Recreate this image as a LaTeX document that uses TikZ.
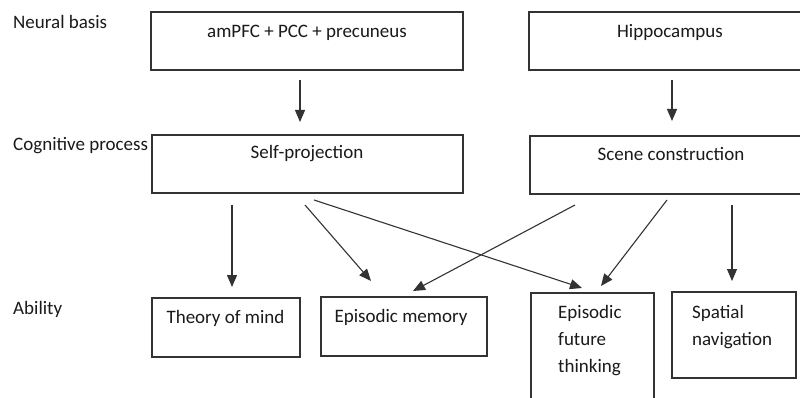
\documentclass[tikz,border=0pt]{standalone}
\usepackage{fontspec}
\setmainfont{Carlito}
\usetikzlibrary{arrows.meta}
\definecolor{ln}{HTML}{333333}
\definecolor{tx}{HTML}{1A1A1A}
\tikzset{
  box/.style={draw=ln, line width=1.1pt, rectangle, inner sep=0pt},
  lbl/.style={anchor=base, inner sep=0pt, text=tx, font=\fontsize{19}{27}\selectfont},
  side/.style={anchor=base west, inner sep=0pt, text=tx, font=\fontsize{19}{27}\selectfont},
  multi/.style={anchor=base west, inner sep=0pt, text=tx, align=left, text width=95pt, font=\fontsize{19}{27}\selectfont},
  arr/.style={draw=ln, line width=1.1pt, -{Triangle[length=12pt,width=10pt]}}
}
\begin{document}
\begin{tikzpicture}[x=1pt,y=-1pt]
\useasboundingbox (0,0) rectangle (800,398);
\clip (0,0) rectangle (800,398);
\fill[white] (0,0) rectangle (800,398);
% row labels
\node[side] (lneural) at (13,29) {Neural basis};
\node[side] (lcog) at (13,151) {Cognitive process};
\node[side] (labil) at (13,314) {Ability};
% boxes
\node[box, minimum width=312pt, minimum height=58pt] (ampfc) at (307,41) {};
\node[box, minimum width=282pt, minimum height=58pt] (hippo) at (670,41) {};
\node[box, minimum width=311pt, minimum height=58pt] (selfp) at (307.5,164) {};
\node[box, minimum width=281pt, minimum height=58pt] (scene) at (670.5,165) {};
\node[box, minimum width=148pt, minimum height=59pt] (tom) at (226,327.5) {};
\node[box, minimum width=166pt, minimum height=59pt] (epm) at (404,326.5) {};
\node[box, minimum width=123pt, minimum height=127pt] (eft) at (592.5,356.5) {};
\node[box, minimum width=124pt, minimum height=86pt] (spn) at (734,335) {};
% texts
\node[lbl] (tampfc) at (307,37.5) {amPFC + PCC + precuneus};
\node[lbl] (thippo) at (670,37.5) {Hippocampus};
\node[lbl] (tselfp) at (307,159) {Self-projection};
\node[lbl] (tscene) at (671,161) {Scene construction};
\node[lbl] (ttom) at (225.5,323) {Theory of mind};
\node[lbl] (tepm) at (401,322) {Episodic memory};
\node[multi] (teft) at (558,318) {Episodic\\future\\thinking};
\node[multi] (tspn) at (692,318) {Spatial\\navigation};
% arrow end points
\coordinate (a1s) at (300,80);  \coordinate (a1e) at (300,122);
\coordinate (a2s) at (672,80);  \coordinate (a2e) at (672,121);
\coordinate (b1s) at (232,205); \coordinate (b1e) at (232,287);
\coordinate (b2s) at (305,205); \coordinate (b2e) at (371,281);
\coordinate (b3s) at (314,200); \coordinate (b3e) at (582,288);
\coordinate (c1s) at (575,205); \coordinate (c1e) at (413,291);
\coordinate (c2s) at (667,200); \coordinate (c2e) at (601,286);
\coordinate (c3s) at (732,205); \coordinate (c3e) at (732,281);
% connectors
\draw[arr] (a1s) -- (a1e);
\draw[arr] (a2s) -- (a2e);
\draw[arr] (b1s) -- (b1e);
\draw[arr] (b2s) -- (b2e);
\draw[arr] (b3s) -- (b3e);
\draw[arr] (c1s) -- (c1e);
\draw[arr] (c2s) -- (c2e);
\draw[arr] (c3s) -- (c3e);
\end{tikzpicture}
\end{document}
